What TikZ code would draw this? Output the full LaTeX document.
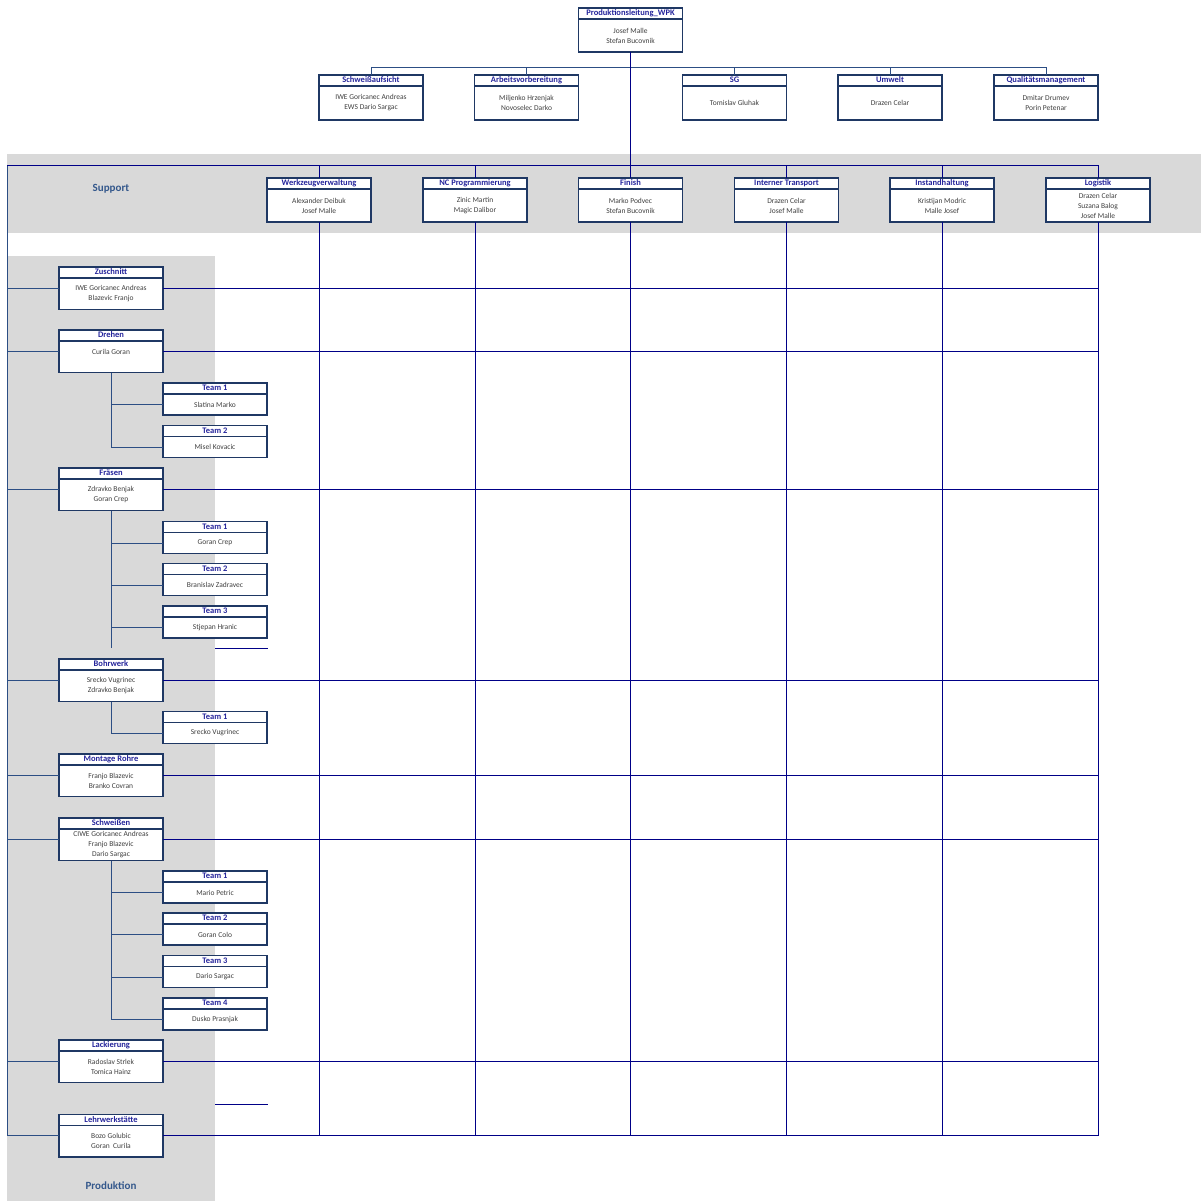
\documentclass[tikz,border=0pt]{standalone}
\usepackage{fontspec}
\setmainfont{Carlito}
\usepackage{xcolor}
\usepackage{tikz}
\usetikzlibrary{positioning}

\definecolor{gridblue}{RGB}{0,0,135}
\definecolor{boxblue}{RGB}{31,56,100}
\definecolor{treeblue}{RGB}{44,78,132}
\definecolor{titleblue}{RGB}{36,36,155}
\definecolor{namegray}{RGB}{64,64,64}
\definecolor{bandgray}{RGB}{217,217,217}
\definecolor{labelblue}{RGB}{52,88,140}

\begin{document}
\begin{tikzpicture}[x=1pt, y=-1pt, node distance=0pt,
    head/.style={draw=boxblue, fill=white, line width=1.2pt, outer sep=0pt, inner sep=0pt, minimum width=104pt, minimum height=11pt, anchor=north, text=titleblue, font=\fontsize{8.5}{9}\selectfont\bfseries, text height=6pt, text depth=1.5pt},
    body/.style={draw=boxblue, fill=white, line width=1.2pt, outer sep=0pt, inner sep=0pt, minimum width=104pt, minimum height=31.5pt, align=center, text=namegray, font=\fontsize{7.5}{10}\selectfont},
    team/.style={body, minimum height=21pt},
    grid/.style={draw=gridblue, line width=1pt},
    tree/.style={draw=treeblue, line width=1pt},
    area/.style={text=labelblue, font=\fontsize{11}{13}\selectfont\bfseries}]

      \useasboundingbox (0,0) rectangle (1201,1201);
      \fill[bandgray] (7,154) rectangle (1201,233);
      \fill[bandgray] (7,256) rectangle (215,1201);

      \node[area] (support) at (111,189) {Support};
      \node[area] (produktion) at (111,1186) {Produktion};

      \node[head] (leitung-t) at (630.5,8) {Produktionsleitung\_WPK};
      \node[body, minimum height=33pt] (leitung) [below=of leitung-t] {Josef Malle\\Stefan Bucovnik};

      \node[head] (aufsicht-t) at (371,75) {Schweißaufsicht};
      \node[body, minimum height=34pt] (aufsicht) [below=of aufsicht-t] {IWE Goricanec Andreas\\EWS Dario Sargac};
      \node[head] (avor-t) at (526.5,75) {Arbeitsvorbereitung};
      \node[body, minimum height=34pt] (avor) [below=of avor-t] {Miljenko Hrzenjak\\Novoselec Darko};
      \node[head] (sg-t) at (734.5,75) {SG};
      \node[body, minimum height=34pt] (sg) [below=of sg-t] {Tomislav Gluhak};
      \node[head] (umwelt-t) at (890,75) {Umwelt};
      \node[body, minimum height=34pt] (umwelt) [below=of umwelt-t] {Drazen Celar};
      \node[head] (quali-t) at (1046,75) {Qualitätsmanagement};
      \node[body, minimum height=34pt] (quali) [below=of quali-t] {Dmitar Drumev\\Porin Petenar};

      \node[head] (werkzeug-t) at (319,178) {Werkzeugverwaltung};
      \node[body, minimum height=33pt] (werkzeug) [below=of werkzeug-t] {Alexander Deibuk\\Josef Malle};
      \node[head] (nc-t) at (475,178) {NC Programmierung};
      \node[body, minimum height=33pt] (nc) [below=of nc-t] {Zinic Martin\\Magic Dalibor};
      \node[head] (finish-t) at (630.5,178) {Finish};
      \node[body, minimum height=33pt] (finish) [below=of finish-t] {Marko Podvec\\Stefan Bucovnik};
      \node[head] (transport-t) at (786.5,178) {Interner Transport};
      \node[body, minimum height=33pt] (transport) [below=of transport-t] {Drazen Celar\\Josef Malle};
      \node[head] (instand-t) at (942,178) {Instandhaltung};
      \node[body, minimum height=33pt] (instand) [below=of instand-t] {Kristijan Modric\\Malle Josef};
      \node[head] (logistik-t) at (1098,178) {Logistik};
      \node[body, minimum height=33pt] (logistik) [below=of logistik-t] {Drazen Celar\\Suzana Balog\\Josef Malle};

      \node[head] (zuschnitt-t) at (111,267) {Zuschnitt};
      \node[body] (zuschnitt) [below=of zuschnitt-t] {IWE Goricanec Andreas\\Blazevic Franjo};
      \node[head] (drehen-t) at (111,330) {Drehen};
      \node[body] (drehen) [below=of drehen-t] {Curila Goran\\~};
      \node[head] (dreh1-t) at (215,383) {Team 1};
      \node[team] (dreh1) [below=of dreh1-t] {Slatina Marko};
      \node[head] (dreh2-t) at (215,425.5) {Team 2};
      \node[team] (dreh2) [below=of dreh2-t] {Misel Kovacic};

      \node[head] (fraesen-t) at (111,468) {Fräsen};
      \node[body] (fraesen) [below=of fraesen-t] {Zdravko Benjak\\Goran Crep};
      \node[head] (fr1-t) at (215,521.5) {Team 1};
      \node[team] (fr1) [below=of fr1-t] {Goran Crep};
      \node[head] (fr2-t) at (215,563.5) {Team 2};
      \node[team] (fr2) [below=of fr2-t] {Branislav Zadravec};
      \node[head] (fr3-t) at (215,606) {Team 3};
      \node[team] (fr3) [below=of fr3-t] {Stjepan Hranic};

      \node[head] (bohrwerk-t) at (111,659) {Bohrwerk};
      \node[body] (bohrwerk) [below=of bohrwerk-t] {Srecko Vugrinec\\Zdravko Benjak};
      \node[head] (bohr1-t) at (215,711.5) {Team 1};
      \node[team] (bohr1) [below=of bohr1-t] {Srecko Vugrinec};

      \node[head] (montage-t) at (111,754) {Montage Rohre};
      \node[body] (montage) [below=of montage-t] {Franjo Blazevic\\Branko Covran};

      \node[head] (schweissen-t) at (111,818) {Schweißen};
      \node[body] (schweissen) [below=of schweissen-t] {CIWE Goricanec Andreas\\Franjo Blazevic\\Dario Sargac};
      \node[head] (sw1-t) at (215,871) {Team 1};
      \node[team] (sw1) [below=of sw1-t] {Mario Petric};
      \node[head] (sw2-t) at (215,913) {Team 2};
      \node[team] (sw2) [below=of sw2-t] {Goran Colo};
      \node[head] (sw3-t) at (215,955.5) {Team 3};
      \node[team] (sw3) [below=of sw3-t] {Dario Sargac};
      \node[head] (sw4-t) at (215,998) {Team 4};
      \node[team] (sw4) [below=of sw4-t] {Dusko Prasnjak};

      \node[head] (lackierung-t) at (111,1040) {Lackierung};
      \node[body] (lackierung) [below=of lackierung-t] {Radoslav Strlek\\Tomica Hainz};
      \node[head] (lehr-t) at (111,1114.5) {Lehrwerkstätte};
      \node[body] (lehr) [below=of lehr-t] {Bozo Golubic\\Goran\ \ Curila};

      \coordinate (bus) at (630.5,68);
      \coordinate (frame-top) at (7,166);
      \coordinate (frame-bot) at (7,1135.5);
      \coordinate (stub1a) at (215,648);
      \coordinate (stub1b) at (268,648);
      \coordinate (stub2a) at (215,1104);
      \coordinate (stub2b) at (268,1104);

      \draw[tree] (aufsicht-t.north) -- (aufsicht-t.north |- bus) -- (quali-t.north |- bus) -- (quali-t.north);
      \draw[tree] (avor-t.north |- bus) -- (avor-t.north);
      \draw[tree] (sg-t.north |- bus) -- (sg-t.north);
      \draw[tree] (umwelt-t.north |- bus) -- (umwelt-t.north);
      \draw[grid] (leitung.south) -- (finish-t.north);

      \draw[grid] (frame-top) -- (frame-top -| logistik-t) -- (logistik-t.north);
      \draw[grid] (frame-top -| werkzeug-t) -- (werkzeug-t.north);
      \draw[grid] (frame-top -| nc-t) -- (nc-t.north);
      \draw[grid] (frame-top -| transport-t) -- (transport-t.north);
      \draw[grid] (frame-top -| instand-t) -- (instand-t.north);
      \draw[tree] (frame-top) -- (frame-bot);

      \draw[grid] (werkzeug.south) -- (werkzeug.south |- frame-bot);
      \draw[grid] (nc.south) -- (nc.south |- frame-bot);
      \draw[grid] (finish.south) -- (finish.south |- frame-bot);
      \draw[grid] (transport.south) -- (transport.south |- frame-bot);
      \draw[grid] (instand.south) -- (instand.south |- frame-bot);
      \draw[grid] (logistik.south) -- (logistik.south |- frame-bot);

      \foreach \row in {zuschnitt, drehen, fraesen, bohrwerk, montage, schweissen, lackierung, lehr} {
        \draw[tree] ([yshift=-10pt]\row.north west -| frame-top) -- ([yshift=-10pt]\row.north west);
        \draw[grid] ([yshift=-10pt]\row.north east) -- ([yshift=-10pt]\row.north east -| logistik);
      }

      \draw[tree] (drehen.south) |- (dreh1.west);
      \draw[tree] (drehen.south) |- (dreh2.west);
      \draw[tree] (fraesen.south) -- (fraesen.south |- stub1a);
      \draw[tree] (fraesen.south) |- (fr1.west);
      \draw[tree] (fraesen.south) |- (fr2.west);
      \draw[tree] (fraesen.south) |- (fr3.west);
      \draw[tree] (bohrwerk.south) |- (bohr1.west);
      \draw[tree] (schweissen.south) |- (sw1.west);
      \draw[tree] (schweissen.south) |- (sw2.west);
      \draw[tree] (schweissen.south) |- (sw3.west);
      \draw[tree] (schweissen.south) |- (sw4.west);
      \draw[grid] (stub1a) -- (stub1b);
      \draw[grid] (stub2a) -- (stub2b);
\end{tikzpicture}
\end{document}
